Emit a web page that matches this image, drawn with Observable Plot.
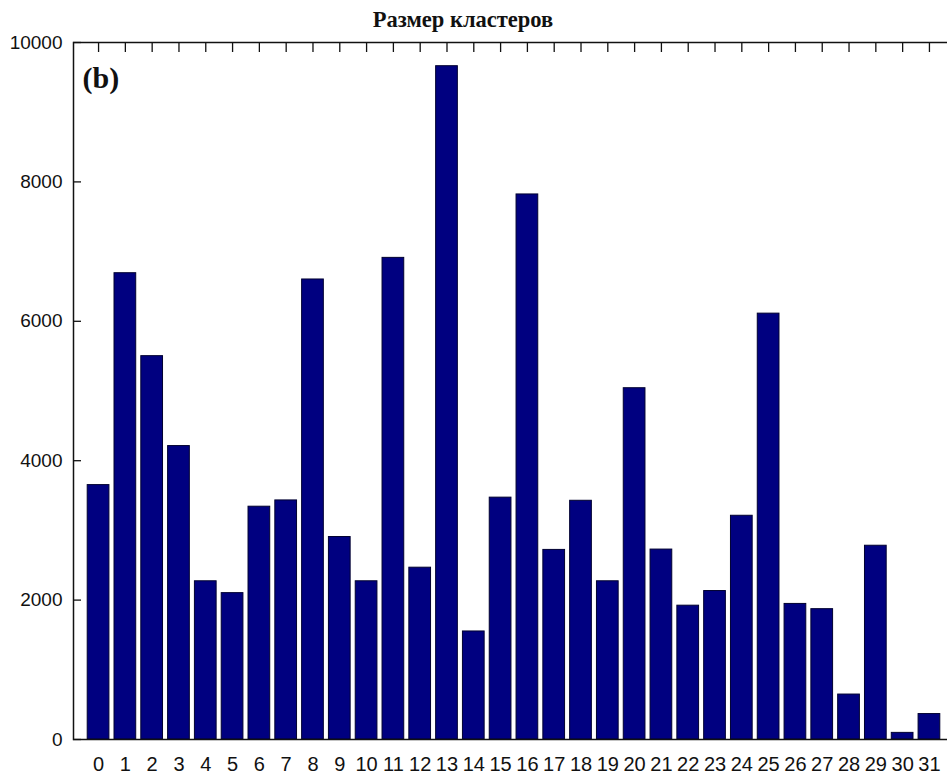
<!DOCTYPE html>
<html>
<head>
<meta charset="utf-8">
<script src="https://cdn.jsdelivr.net/npm/d3@7"></script>
<script src="https://cdn.jsdelivr.net/npm/@observablehq/plot@0.6"></script>
<style>
  html, body { margin: 0; padding: 0; background: white; overflow: hidden; }
  #chart svg { max-width: none !important; display: block; }
</style>
</head>
<body>
<div id="chart"></div>
<script>
const titleText = "Размер кластеров";
const panelLabel = "(b)";
const clusters = d3.range(0, 32).map(String);
const sizes = [3650, 6690, 5500, 4210, 2270, 2100, 3340, 3430, 6600, 2905,
               2270, 6910, 2465, 9660, 1550, 3470, 7820, 2720, 3425, 2270,
               5040, 2725, 1920, 2130, 3210, 6110, 1945, 1870, 645, 2780,
               95, 365];
const yTicks = [0, 2000, 4000, 6000, 8000, 10000];

const data = clusters.map((c, i) => ({cluster: c, size: sizes[i]}));

const plot = Plot.plot({
  width: 960,
  height: 774,
  marginLeft: 73,
  marginRight: 6,
  marginTop: 42,
  marginBottom: 35,
  style: {fontFamily: "'Liberation Sans', Arial, sans-serif", fontSize: "19px", color: "#111", background: "white", maxWidth: "none"},
  x: {type: "band", domain: clusters, paddingInner: 0.19, paddingOuter: 0.53, round: false, label: null},
  y: {domain: [0, 10000], label: null},
  marks: [
    Plot.barY(data, {x: "cluster", y: "size", fill: "#000080", stroke: "#000030", strokeWidth: 1}),
    Plot.frame({stroke: "#111", strokeWidth: 1.5}),
    Plot.axisY({anchor: "left", ticks: yTicks, tickSize: -8, tickPadding: 19, tickFormat: "d", fontSize: 19, label: null, strokeWidth: 1.3}),
    Plot.axisY({anchor: "right", ticks: yTicks, tickSize: -8, tickFormat: () => "", label: null, strokeWidth: 1.3}),
    Plot.axisX({anchor: "top", tickSize: -9, tickFormat: () => "", label: null, strokeWidth: 1.3}),
    Plot.axisX({anchor: "bottom", tickSize: 0, tickPadding: 17, fontSize: 20, label: null}),
    Plot.text([panelLabel], {frameAnchor: "top-left", textAnchor: "start", lineAnchor: "top", dx: 9, dy: 24,
      fontFamily: "'Liberation Serif', 'Times New Roman', serif", fontWeight: "bold", fontSize: 30, fill: "#111"})
  ]
});

d3.select(plot).append("text")
  .attr("x", 463)
  .attr("y", 27)
  .attr("text-anchor", "middle")
  .attr("font-family", "'Liberation Serif', 'Times New Roman', serif")
  .attr("font-weight", "bold")
  .attr("font-size", 22.5)
  .attr("fill", "#111")
  .text(titleText);

plot.style.maxWidth = "none";
document.getElementById("chart").appendChild(plot);
</script>
</body>
</html>
